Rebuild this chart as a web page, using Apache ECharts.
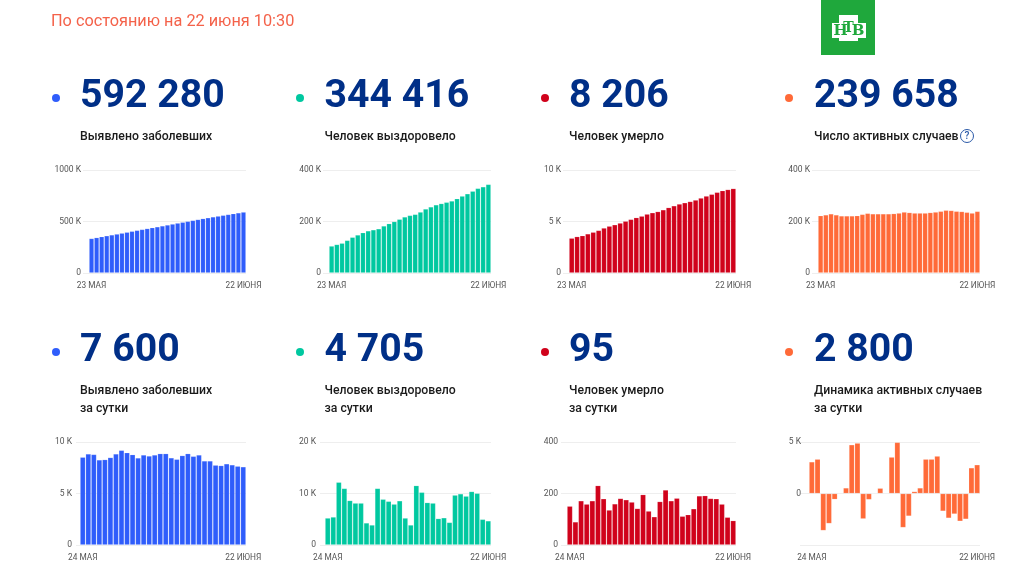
<!DOCTYPE html>
<html><head><meta charset="utf-8">
<style>html,body{margin:0;padding:0;background:#fff}#c{width:1024px;height:576px}</style>
<script src="https://cdn.jsdelivr.net/npm/echarts@6/dist/echarts.min.js"></script>
</head><body><div id="c"></div>
<script>
const daysTotal = ['23 МАЯ','24 мая','25 мая','26 мая','27 мая','28 мая','29 мая','30 мая','31 мая','1 июня','2 июня','3 июня','4 июня','5 июня','6 июня','7 июня','8 июня','9 июня','10 июня','11 июня','12 июня','13 июня','14 июня','15 июня','16 июня','17 июня','18 июня','19 июня','20 июня','21 июня','22 ИЮНЯ'];
const daysDaily = ['24 МАЯ','25 мая','26 мая','27 мая','28 мая','29 мая','30 мая','31 мая','1 июня','2 июня','3 июня','4 июня','5 июня','6 июня','7 июня','8 июня','9 июня','10 июня','11 июня','12 июня','13 июня','14 июня','15 июня','16 июня','17 июня','18 июня','19 июня','20 июня','21 июня','22 ИЮНЯ'];

const confirmedTotal = [335882,344481,353427,362342,370680,379051,387623,396575,405843,414878,423741,432277,440538,449256,458102,467073,476043,485253,493657,502436,511423,520129,528964,537210,545458,553301,561091,569063,576952,584680,592280];
const recoveredTotal = [105000,111000,116000,127000,139000,148000,157000,164000,168000,172000,183000,192000,200000,209000,218000,224000,228000,237000,249000,257000,265000,270000,275000,280000,289000,299000,308000,318000,329000,335000,344416];
const deathsTotal = [3388,3541,3633,3807,3968,4142,4374,4555,4693,4855,5037,5215,5384,5528,5725,5859,5971,6142,6358,6532,6705,6829,6948,7091,7284,7478,7650,7841,8002,8111,8206];
const activeTotal = [223000,226000,230000,226000,222000,222000,222000,223000,228000,232000,230000,230000,230000,230000,231000,233000,237000,235000,233000,233000,233000,235000,237000,240000,244000,243000,240000,239000,236000,233000,239658];
const confirmedDaily = [8530,8850,8800,8270,8300,8500,8850,9200,8970,8780,8460,8750,8650,8750,8880,8880,8470,8330,8690,8880,8620,8750,8170,8170,7760,7720,7890,7790,7660,7600];
const recoveredDaily = [5250,5450,12200,11000,8650,8150,8150,4300,3900,11000,8900,8500,7950,8600,5250,3900,11550,10250,8250,8150,5150,5300,4400,9700,9950,9500,10400,10050,5000,4705];
const deathsDaily = [151,90,172,159,172,231,180,136,160,181,176,167,142,196,132,110,169,214,172,182,112,118,141,191,192,181,180,159,108,95];
const activeDaily = [3080,3340,-3600,-2920,-580,60,550,4740,4900,-2470,-600,0,520,-30,3540,4970,-3310,-2200,200,550,3340,3340,3640,-1720,-2400,-2000,-2700,-2500,2500,2800];

const headline = 'По состоянию на 22 июня 10:30';
const totals = ['592 280','344 416','8 206','239 658','7 600','4 705','95','2 800'];
const captions = [
 ['Выявлено заболевших'],['Человек выздоровело'],['Человек умерло'],['Число активных случаев'],
 ['Выявлено заболевших','за сутки'],['Человек выздоровело','за сутки'],['Человек умерло','за сутки'],['Динамика активных случаев','за сутки']];

const BLUE='#2f5dfb',GREEN='#00c8a0',RED='#d0021b',ORANGE='#ff6a38',NAVY='#002f87';
const panels = [
 {d:confirmedTotal,c:daysTotal,col:BLUE,left:89,right:246,tick:6,gap:8,max:1000000,min:0,step:500000},
 {d:recoveredTotal,c:daysTotal,col:GREEN,left:329,right:491,tick:6,gap:8,max:400000,min:0,step:200000},
 {d:deathsTotal,c:daysTotal,col:RED,left:569,right:736,tick:6,gap:8,max:10000,min:0,step:5000},
 {d:activeTotal,c:daysTotal,col:ORANGE,left:818,right:980,tick:6,gap:8,max:400000,min:0,step:200000},
 {d:confirmedDaily,c:daysDaily,col:BLUE,left:80,right:246,tick:4,gap:8,max:10000,min:0,step:5000},
 {d:recoveredDaily,c:daysDaily,col:GREEN,left:325,right:491,tick:5,gap:9,max:20000,min:0,step:10000},
 {d:deathsDaily,c:daysDaily,col:RED,left:567,right:736,tick:6,gap:9,max:400,min:0,step:200},
 {d:activeDaily,c:daysDaily,col:ORANGE,left:809,right:980,tick:9,gap:8,max:5000,min:-5000,step:5000}
];
const textX=[80,324.5,569,814], dotX=[56,300,545,789];
const rowTop=[170,442], rowH=103, numY=[98,352], capY=[136,390];

const fmt=v=>{ if(v<0) return ''; if(v===0) return '0'; return v>=1000? (v/1000)+' K' : String(v); };

const grid=[],xAxis=[],yAxis=[],series=[],graphic=[];
panels.forEach((p,i)=>{
  const row=i<4?0:1, colI=i%4;
  grid.push({left:p.left,width:p.right-p.left,top:rowTop[row],height:rowH});
  xAxis.push({type:'category',gridIndex:i,data:p.c,position:'bottom',
    axisLine:{show:false},axisTick:{show:false},splitLine:{show:false},
    axisLabel:{interval:(k)=>k===0||k===p.c.length-1,showMinLabel:true,showMaxLabel:true,hideOverlap:false,
      color:'#555',fontFamily:'Roboto',fontSize:8.3,margin:9}});
  yAxis.push({type:'value',gridIndex:i,min:p.min,max:p.max,interval:p.step,
    axisLine:{show:false},axisTick:{show:true,length:p.tick,lineStyle:{color:'#eeeeee',width:1}},
    splitLine:{show:true,lineStyle:{color:'#eeeeee',width:1}},
    axisLabel:{formatter:fmt,color:'#555',fontFamily:'Roboto',fontSize:8.5,margin:p.gap}});
  series.push({type:'bar',xAxisIndex:i,yAxisIndex:i,data:p.d,barCategoryGap:'0%',silent:true,
    itemStyle:{color:p.col,borderColor:'rgba(255,255,255,0.18)',borderWidth:0.8},animation:false});
  graphic.push({type:'circle',shape:{cx:dotX[colI],cy:numY[row],r:4},style:{fill:p.col}});
  graphic.push({type:'text',x:textX[colI],y:numY[row]-1,style:{text:totals[i],fill:NAVY,font:'700 39.2px Roboto',textVerticalAlign:'middle',textBaseline:'middle'}});
  captions[i].forEach((t,k)=>graphic.push({type:'text',x:textX[colI],y:capY[row]+k*18+1,
    style:{text:t,fill:'#1a1a1a',font:'500 12.25px Roboto',textBaseline:'middle',textVerticalAlign:'middle'}}));
});
graphic.push({type:'text',x:51,y:22,style:{text:headline,fill:'#f4624a',font:'400 16.3px Roboto',textBaseline:'middle',textVerticalAlign:'middle'}});
graphic.push({type:'circle',shape:{cx:967,cy:136,r:6.5},style:{fill:'#fff',stroke:'#2b5aa8',lineWidth:1}});
graphic.push({type:'text',x:967,y:136.5,style:{text:'?',fill:'#2b5aa8',font:'500 10px Roboto',textAlign:'center',textBaseline:'middle',textVerticalAlign:'middle'}});
// channel logo
graphic.push({type:'rect',shape:{x:821,y:0,width:54,height:55},style:{fill:'#1fa83c'}});
graphic.push({type:'rect',shape:{x:839,y:15,width:19,height:26},style:{fill:'#fff'}});
graphic.push({type:'rect',shape:{x:832,y:23,width:34,height:15},style:{fill:'#fff'}});
[['Н',840.5,31,15],['Т',848.5,28,14],['В',858,31,15]].forEach(([t,x,y,s])=>graphic.push({type:'text',x,y,
  style:{text:t,fill:'#1fa83c',font:'700 '+s+'px "DejaVu Serif"',textAlign:'center',textBaseline:'middle',textVerticalAlign:'middle'}}));

const chart=echarts.init(document.getElementById('c'),null,{renderer:'canvas'});
chart.setOption({animation:false,backgroundColor:'#fff',grid,xAxis,yAxis,series,graphic});
</script></body></html>
